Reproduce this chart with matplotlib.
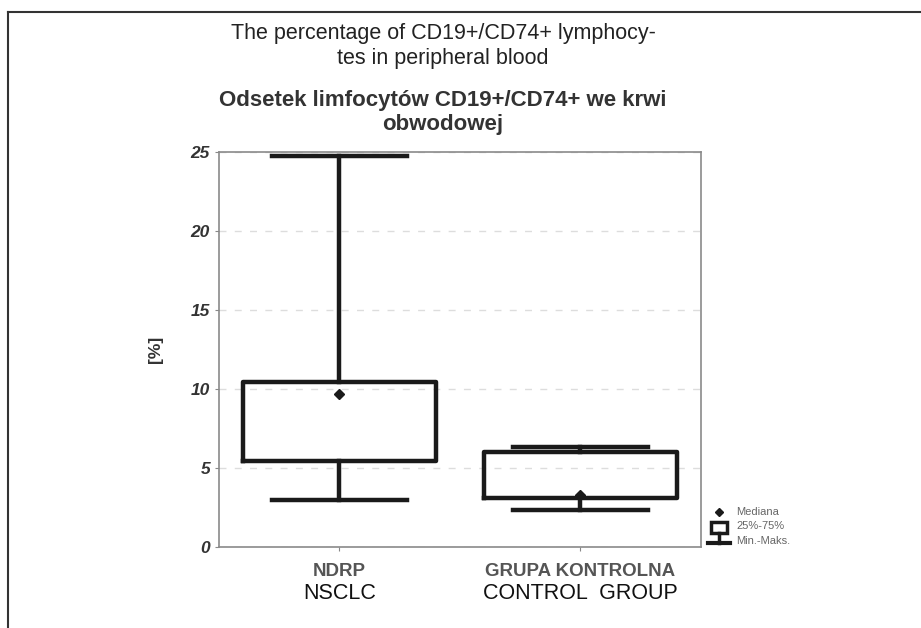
import numpy as np
import matplotlib.pyplot as plt
from matplotlib.lines import Line2D
from matplotlib.patches import Rectangle

plt.rcParams['font.family'] = ['Liberation Sans', 'DejaVu Sans']

# box summaries
groups_pl = ["NDRP", "GRUPA KONTROLNA"]
groups_en = ["NSCLC", "CONTROL  GROUP"]
medians = [9.7, 3.3]
q1 = [5.45, 3.1]
q3 = [10.45, 6.0]
mins = [2.97, 2.35]
maxs = [24.75, 6.33]
yticks = [0, 5, 10, 15, 20, 25]

fig = plt.figure(figsize=(9.21, 6.28), dpi=100)
ax = fig.add_axes([0.2378, 0.129, 0.5232, 0.629])

stats = []
for i in range(len(groups_pl)):
    stats.append({"med": medians[i], "mean": medians[i], "q1": q1[i], "q3": q3[i],
                  "whislo": mins[i], "whishi": maxs[i], "label": groups_pl[i]})

lw = 3.2
ax.bxp(stats, positions=[0, 1], widths=0.8, showmeans=True, showfliers=False,
       boxprops=dict(color="#1a1a1a", linewidth=lw),
       whiskerprops=dict(color="#1a1a1a", linewidth=lw),
       capprops=dict(color="#1a1a1a", linewidth=lw),
       medianprops=dict(visible=False),
       meanprops=dict(marker="D", markerfacecolor="#1a1a1a", markeredgecolor="#1a1a1a",
                      markersize=5),
       capwidths=0.56)

ax.set_xlim(-0.5, 1.5)
ax.set_ylim(0, 25)
ax.set_yticks(yticks)
ax.set_yticklabels([str(t) for t in yticks], fontsize=12.5, fontweight="bold",
                   fontstyle="italic", color="#333333")
ax.set_xticks([0, 1])
ax.set_xticklabels([])
ax.tick_params(axis="both", length=3, color="#888888", direction="out")
for s in ax.spines.values():
    s.set_color("#8a8a8a")
    s.set_linewidth(1.2)
ax.grid(axis="y", color="#dddddd", linestyle=(0, (5, 6)), linewidth=1)
ax.set_axisbelow(True)
ax.set_ylabel("[%]", fontsize=12.5, fontweight="bold", color="#333333", labelpad=20)

# category labels, Polish then English
for i in range(len(groups_pl)):
    ax.text(i, -0.062, groups_pl[i], transform=ax.get_xaxis_transform(), ha="center",
            va="center", fontsize=13.5, fontweight="bold", color="#555555")
    ax.text(i, -0.118, groups_en[i], transform=ax.get_xaxis_transform(), ha="center",
            va="center", fontsize=15.5, color="#111111")

# titles
fig.text(0.481, 0.947, "The percentage of CD19+/CD74+ lymphocy-", ha="center", va="center",
         fontsize=15.5, color="#222222")
fig.text(0.481, 0.907, "tes in peripheral blood", ha="center", va="center",
         fontsize=15.5, color="#222222")
fig.text(0.481, 0.840, "Odsetek limfocytów CD19+/CD74+ we krwi", ha="center", va="center",
         fontsize=16, fontweight="bold", color="#333333")
fig.text(0.481, 0.802, "obwodowej", ha="center", va="center",
         fontsize=16, fontweight="bold", color="#333333")

# legend key outside right
fig.add_artist(Line2D([719 / 921], [1 - 512 / 628], marker="D", color="#1a1a1a",
                      markersize=4, transform=fig.transFigure))
fig.add_artist(Rectangle((711 / 921, 1 - 533 / 628), 16 / 921, 11 / 628, fill=False,
                         edgecolor="#1a1a1a", linewidth=2.5, transform=fig.transFigure))
fig.add_artist(Line2D([719 / 921, 719 / 921], [1 - 533 / 628, 1 - 543 / 628],
                      color="#1a1a1a", linewidth=2.5, transform=fig.transFigure))
fig.add_artist(Line2D([708 / 921, 730 / 921], [1 - 543 / 628, 1 - 543 / 628],
                      color="#1a1a1a", linewidth=3, transform=fig.transFigure))
for txt, yy in zip(["Mediana", "25%-75%", "Min.-Maks."], [512, 526, 541]):
    fig.text(736 / 921, 1 - yy / 628, txt, ha="left", va="center", fontsize=8,
             color="#666666")

# page frame lines
fig.add_artist(Line2D([7.5 / 921, 1], [1 - 11.5 / 628, 1 - 11.5 / 628], color="#333333",
                      linewidth=1.5, transform=fig.transFigure))
fig.add_artist(Line2D([7.5 / 921, 7.5 / 921], [0, 1 - 11.5 / 628], color="#333333",
                      linewidth=1.5, transform=fig.transFigure))

fig.savefig("out.png", dpi=100)
